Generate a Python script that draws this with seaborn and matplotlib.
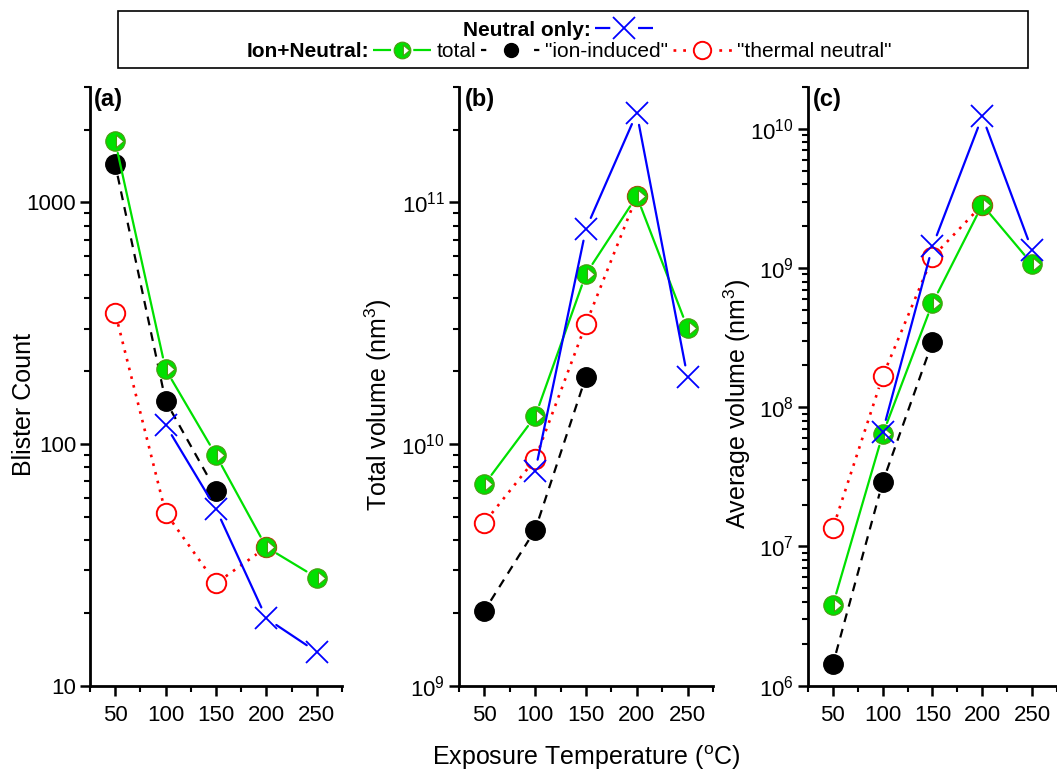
import numpy as np
import matplotlib
matplotlib.use("Agg")
import matplotlib.pyplot as plt
from matplotlib.path import Path
from matplotlib.lines import Line2D
from matplotlib.patches import Rectangle
from matplotlib.ticker import (LogLocator, NullFormatter, ScalarFormatter,
                               LogFormatterSciNotation, MultipleLocator)
import seaborn as sns

# Exposure temperatures (degC) for each series
temps = [50, 100, 150, 200, 250]
ion_temps = [50, 100, 150]
thermal_temps = [50, 100, 150, 200]
neutral_temps = [100, 150, 200, 250]

# (a) blister count
count_total = [1790, 204, 90, 37.4, 28]
count_ion = [1440, 151, 64]
count_thermal = [350, 52, 26.5, 37.4]
count_neutral = [120, 54, 19, 13.8]

# (b) total blister volume, nm^3
vol_total = [6.8e9, 1.30e10, 5.05e10, 1.06e11, 3.02e10]
vol_ion = [2.04e9, 4.41e9, 1.90e10]
vol_thermal = [4.73e9, 8.65e9, 3.14e10, 1.06e11]
vol_neutral = [7.7e9, 7.76e10, 2.34e11, 1.89e10]

# (c) average blister volume, nm^3
avg_total = [3.8e6, 6.4e7, 5.6e8, 2.85e9, 1.07e9]
avg_ion = [1.42e6, 2.9e7, 2.95e8]
avg_thermal = [1.35e7, 1.67e8, 1.2e9, 2.85e9]
avg_neutral = [6.7e7, 1.43e9, 1.23e10, 1.34e9]

sns.set_style("ticks")
plt.rcParams["font.family"] = ["Liberation Sans", "DejaVu Sans"]
plt.rcParams["mathtext.default"] = "regular"
for key in ("text.color", "axes.labelcolor", "xtick.color", "ytick.color",
            "axes.edgecolor"):
    plt.rcParams[key] = "black"

GREEN = "#00e000"
BLUE = "#0000ff"
RED = "#ff0000"
LW = 1.6
GAP_PX = 12  # lines stop short of each symbol

# green circle with a white right-pointing triangle cut out
_circ = Path.unit_circle()
_tri = np.array([[0.1, 0.64], [0.86, 0.0], [0.1, -0.64], [0.1, 0.64]])
half_marker = Path(
    np.concatenate([_circ.vertices, _tri]),
    np.concatenate([_circ.codes,
                    [Path.MOVETO, Path.LINETO, Path.LINETO, Path.CLOSEPOLY]]),
)

line_total = dict(color=GREEN, lw=LW, linestyle="-")
line_ion = dict(color="black", lw=LW, linestyle=(0, (4.0, 3.2)))
line_thermal = dict(color=RED, lw=LW + 0.3, linestyle=(0, (1, 2.4)))
line_neutral = dict(color=BLUE, lw=LW, linestyle="-")

mark_total = dict(marker=half_marker, ms=14, mfc=GREEN, mec="#4a9a10", mew=0.8)
mark_ion = dict(marker="o", ms=14, mfc="black", mec="black", mew=1.0)
mark_thermal = dict(marker="o", ms=14, mfc="none", mec=RED, mew=1.4)
mark_neutral = dict(marker="x", ms=16, mec=BLUE, mew=1.3)


def gapped_line(ax, xs, ys, zorder, **style):
    """Join consecutive points with segments that stop short of the symbols."""
    to_disp = ax.transData
    to_data = ax.transData.inverted()
    pts = to_disp.transform(np.column_stack([xs, ys]))
    for p, q in zip(pts[:-1], pts[1:]):
        d = q - p
        length = np.hypot(*d)
        if length <= 2 * GAP_PX:
            continue
        u = d / length
        a, b = to_data.transform([p + u * GAP_PX, q - u * GAP_PX])
        sns.lineplot(x=[a[0], b[0]], y=[a[1], b[1]], ax=ax, zorder=zorder,
                     sort=False, **style)


fig = plt.figure(figsize=(10.57, 7.74), dpi=100)
bottom, height = 0.1141, 0.7735
axes = [
    fig.add_axes([0.0851, bottom, 0.2384, height]),
    fig.add_axes([0.4342, bottom, 0.2403, height]),
    fig.add_axes([0.7644, bottom, 0.2356, height]),
]

panels = [
    (count_total, count_ion, count_thermal, count_neutral, (10, 3000),
     "Blister Count", "(a)", False, -0.215, 0.016),
    (vol_total, vol_ion, vol_thermal, vol_neutral, (1e9, 3e11),
     "Total volume (nm$^3$)", "(b)", True, -0.255, 0.024),
    (avg_total, avg_ion, avg_thermal, avg_neutral, (1e6, 2e10),
     "Average volume (nm$^3$)", "(c)", True, -0.22, 0.02),
]

for ax, (tot, ion, th, neu, ylim, ylabel, tag, sci, lx, tx) in zip(axes, panels):
    ax.set_yscale("log")
    ax.set_xlim(25, 275)
    ax.set_ylim(*ylim)

    series = [
        (thermal_temps, th, line_thermal, mark_thermal, 2),
        (ion_temps, ion, line_ion, mark_ion, 3),
        (temps, tot, line_total, mark_total, 4),
        (neutral_temps, neu, line_neutral, mark_neutral, 5),
    ]
    for xs, ys, lstyle, mstyle, z in series:
        gapped_line(ax, xs, ys, z, **lstyle)
        sns.lineplot(x=xs, y=ys, ax=ax, linestyle="none", zorder=z + 0.5,
                     **mstyle)

    ax.set_xlim(25, 275)
    ax.set_ylim(*ylim)
    ax.xaxis.set_major_locator(MultipleLocator(50))
    ax.xaxis.set_minor_locator(MultipleLocator(25))
    ax.yaxis.set_major_locator(LogLocator(base=10, numticks=20))
    ax.yaxis.set_minor_locator(LogLocator(base=10, subs=np.arange(2, 10),
                                          numticks=100))
    ax.yaxis.set_minor_formatter(NullFormatter())
    if sci:
        ax.yaxis.set_major_formatter(LogFormatterSciNotation())
    else:
        ax.yaxis.set_major_formatter(ScalarFormatter())

    for side in ("top", "right"):
        ax.spines[side].set_visible(False)
    for side in ("left", "bottom"):
        ax.spines[side].set_linewidth(2)
    ax.tick_params(which="major", direction="out", length=7, width=1.8,
                   labelsize=16, pad=3)
    ax.tick_params(which="minor", direction="out", length=4, width=1.5)
    ax.tick_params(axis="x", which="major", pad=7)

    ax.set_xlabel("")
    ax.set_ylabel(ylabel, fontsize=18)
    ax.yaxis.set_label_coords(lx, 0.47)
    ax.text(tx, 0.998, tag, transform=ax.transAxes, fontsize=17,
            fontweight="bold", va="top", ha="left")

fig.text(0.555, 0.021, "Exposure Temperature ($^o$C)", fontsize=18,
         ha="center", va="center")

# legend block across the top
fig.add_artist(Rectangle((0.1116, 0.9121), 0.8610, 0.0736,
                         transform=fig.transFigure, fill=False,
                         lw=1.2, edgecolor="black"))

row1_y, row2_y = 0.961, 0.933
fig.text(0.559, row1_y, "Neutral only:", fontsize=15, fontweight="bold",
         ha="right", va="center")
fig.text(0.349, row2_y, "Ion+Neutral:", fontsize=15, fontweight="bold",
         ha="right", va="center")

# legend keys: line pieces either side of the symbol (lengths in points)
HL = 2.8 * 15


def key_pieces(pieces, lw):
    """Mirror a run of on/off lengths about the symbol and fill the middle."""
    left = list(pieces)
    mid = HL - 2 * sum(left)
    seq = left + [mid] + left[::-1] + [60]
    return (0, tuple(v / lw for v in seq))


blue_key = key_pieces([11.0], LW)
green_key = key_pieces([13.0], LW)
black_key = key_pieces([3.8], LW)
lwt = LW + 0.3
red_key = key_pieces([2.0, 5.0, 2.0], lwt)

h_neutral = Line2D([], [], **{**line_neutral, "linestyle": blue_key},
                   **{**mark_neutral, "ms": 16})
h_total = Line2D([], [], **{**line_total, "linestyle": green_key},
                 **{**mark_total, "ms": 12})
h_ion = Line2D([], [], **{**line_ion, "linestyle": black_key},
               **{**mark_ion, "ms": 10})
h_thermal = Line2D([], [], **{**line_thermal, "linestyle": red_key},
                   **{**mark_thermal, "ms": 12.5})

fig.legend([h_neutral], [""], loc="center left",
           bbox_to_anchor=(0.563, row1_y), frameon=False, fontsize=15,
           handlelength=2.8, handletextpad=0.0, borderpad=0,
           borderaxespad=0)
fig.legend([h_total, h_ion, h_thermal],
           ["total", '"ion-induced"', '"thermal neutral"'],
           loc="center left", bbox_to_anchor=(0.353, row2_y),
           frameon=False, fontsize=15, ncol=3, handlelength=2.8,
           handletextpad=0.25, columnspacing=0.25, borderpad=0,
           borderaxespad=0)

fig.savefig("out.png", dpi=100)
